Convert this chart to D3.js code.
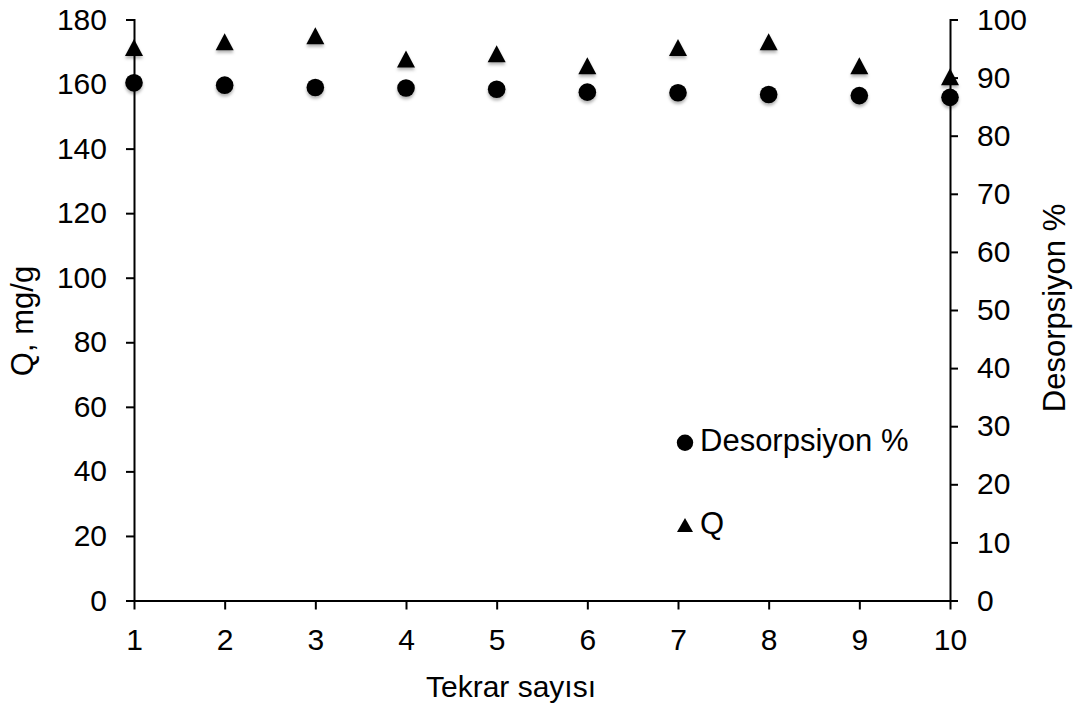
<!DOCTYPE html>
<html>
<head>
<meta charset="utf-8">
<script src="https://cdn.jsdelivr.net/npm/d3@7"></script>
<style>
  html, body { margin: 0; padding: 0; background: #fff; }
  svg { display: block; font-family: "Liberation Sans", Arial, sans-serif; }
</style>
</head>
<body>
<svg id="chart" width="1076" height="709"></svg>
<script>
// Repeat cycles
const cycles = [1, 2, 3, 4, 5, 6, 7, 8, 9, 10];
// Adsorption capacity Q (mg/g), left axis
const qValues = [171.3, 173.1, 175.0, 167.8, 169.4, 165.7, 171.3, 173.1, 165.7, 162.3];
// Desorption (%), right axis
const desorption = [89.1, 88.7, 88.3, 88.2, 88.0, 87.5, 87.4, 87.1, 86.9, 86.6];
// Axis ticks
const leftTicks = [0, 20, 40, 60, 80, 100, 120, 140, 160, 180];
const rightTicks = [0, 10, 20, 30, 40, 50, 60, 70, 80, 90, 100];

const svg = d3.select("#chart");
const plot = { left: 134, right: 950, top: 19.5, bottom: 600.5 };

const x = d3.scaleLinear().domain([1, 10]).range([plot.left, plot.right]);
const yL = d3.scaleLinear().domain([0, 180]).range([plot.bottom, plot.top]);
const yR = d3.scaleLinear().domain([0, 100]).range([plot.bottom, plot.top]);

// soft shadow under markers
const defs = svg.append("defs");
const f = defs.append("filter").attr("id", "shadow")
  .attr("x", "-50%").attr("y", "-50%").attr("width", "200%").attr("height", "200%");
f.append("feDropShadow").attr("dx", 0).attr("dy", 2.5).attr("stdDeviation", 1.6)
  .attr("flood-color", "#000").attr("flood-opacity", 0.3);

const fontSize = 30;
const titleSize = 31;
const fontFamily = '"Liberation Sans", Arial, sans-serif';

function styleAxis(g) {
  g.select(".domain").attr("stroke", "#000").attr("stroke-width", 2);
  g.selectAll(".tick line").attr("stroke", "#000").attr("stroke-width", 2);
  g.selectAll(".tick text").attr("fill", "#000").style("font-size", fontSize + "px")
    .style("font-family", fontFamily);
}

// Bottom axis
svg.append("g")
  .attr("transform", `translate(0,${plot.bottom})`)
  .call(d3.axisBottom(x).tickValues(cycles).tickFormat(d3.format("d")).tickSize(9).tickSizeOuter(0).tickPadding(19))
  .call(styleAxis);

// Left axis
svg.append("g")
  .attr("transform", `translate(${plot.left},0)`)
  .call(d3.axisLeft(yL).tickValues(leftTicks).tickSize(8).tickSizeOuter(8).tickPadding(19))
  .call(styleAxis);

// Right axis
svg.append("g")
  .attr("transform", `translate(${plot.right},0)`)
  .call(d3.axisRight(yR).tickValues(rightTicks).tickSize(8).tickSizeOuter(8).tickPadding(19))
  .call(styleAxis);

// Axis titles
svg.append("text")
  .attr("x", 511).attr("y", 697)
  .attr("text-anchor", "middle").style("font-size", fontSize + "px")
  .text("Tekrar sayısı");

svg.append("text")
  .attr("transform", `translate(33,321) rotate(-90)`)
  .attr("text-anchor", "middle").style("font-size", titleSize + "px")
  .text("Q, mg/g");

svg.append("text")
  .attr("transform", `translate(1065,308) rotate(-90)`)
  .attr("text-anchor", "middle").style("font-size", titleSize + "px")
  .text("Desorpsiyon %");

// Triangle centred on its bounding box
function triangle(w, h) {
  return {
    draw(ctx) {
      ctx.moveTo(0, -h / 2);
      ctx.lineTo(w / 2, h / 2);
      ctx.lineTo(-w / 2, h / 2);
      ctx.closePath();
    }
  };
}

const circleSym = d3.symbol().type(d3.symbolCircle).size(Math.PI * 8.8 * 8.8);
const triSym = d3.symbol().type(triangle(18, 17));

// Q series (triangles)
svg.append("g").attr("filter", "url(#shadow)")
  .selectAll("path").data(cycles)
  .join("path")
  .attr("d", triSym)
  .attr("transform", (d, i) => `translate(${x(d)},${yL(qValues[i])})`)
  .attr("fill", "#000");

// Desorption series (circles)
svg.append("g").attr("filter", "url(#shadow)")
  .selectAll("path").data(cycles)
  .join("path")
  .attr("d", circleSym)
  .attr("transform", (d, i) => `translate(${x(d)},${yR(desorption[i])})`)
  .attr("fill", "#000");

// Legend
const legend = svg.append("g");
const legendItems = [
  { label: "Desorpsiyon %", sym: d3.symbol().type(d3.symbolCircle).size(Math.PI * 8.2 * 8.2), y: 442.7 },
  { label: "Q", sym: d3.symbol().type(triangle(16, 14)), y: 525 }
];
legendItems.forEach(it => {
  legend.append("path").attr("d", it.sym).attr("fill", "#000")
    .attr("transform", `translate(685,${it.y})`);
  legend.append("text").attr("x", 700).attr("y", it.y + 8.5)
    .style("font-size", titleSize + "px").text(it.label);
});
</script>
</body>
</html>
